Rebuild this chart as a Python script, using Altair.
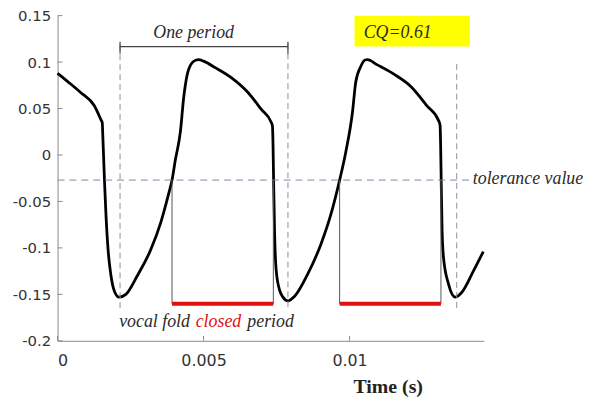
import altair as alt
import pandas as pd

# ---- waveform (time in s, amplitude) ----
t = [0, 0.00035, 0.00080, 0.00126, 0.00150, 0.00153, 0.00155, 0.00158, 0.00161, 0.00166,
     0.00173, 0.00183, 0.00194, 0.00211, 0.00234, 0.00273, 0.00319, 0.00353, 0.00381, 0.00392,
     0.00403, 0.00421, 0.00432, 0.00443, 0.00460, 0.00475, 0.00483, 0.00500, 0.00540, 0.00596,
     0.00653, 0.00698, 0.00732, 0.00736, 0.00738, 0.00740, 0.00743, 0.00749, 0.00761, 0.00772,
     0.00789, 0.00812, 0.00857, 0.00902, 0.00936, 0.00966, 0.00987, 0.01010, 0.01021, 0.01038,
     0.01053, 0.01061, 0.01095, 0.01152, 0.01209, 0.01265, 0.01305, 0.01310, 0.01312, 0.01314,
     0.01317, 0.01322, 0.01339, 0.01362, 0.01384, 0.01424, 0.01458]
v = [0.088, 0.079, 0.067, 0.053, 0.037, 0.035, 0.020, -0.005, -0.030, -0.066,
     -0.102, -0.130, -0.146, -0.153, -0.150, -0.130, -0.102, -0.073, -0.041, -0.027,
     -0.006, 0.026, 0.062, 0.085, 0.099, 0.1022, 0.1026, 0.101, 0.094, 0.083,
     0.067, 0.049, 0.035, 0.031, 0.010, -0.030, -0.080, -0.125, -0.146, -0.153,
     -0.157, -0.152, -0.128, -0.096, -0.064, -0.027, 0.003, 0.046, 0.078, 0.095,
     0.1022, 0.1026, 0.097, 0.087, 0.074, 0.053, 0.037, 0.032, 0.010, -0.030,
     -0.082, -0.111, -0.139, -0.153, -0.148, -0.125, -0.104]

x_ticks = [0, 0.005, 0.01]
y_ticks = [-0.2, -0.15, -0.1, -0.05, 0, 0.05, 0.1, 0.15]

period_x = [0.00214, 0.00789, 0.01367]
period_top = [0.119, 0.120, 0.098]
period_bottom = [-0.166, -0.166, -0.166]

tolerance = [-0.027]
tolerance_end = [0.01412]

closed_start = [0.00392, 0.00966]
closed_end = [0.00739, 0.01313]
closed_level = [-0.16, -0.16]

bracket_x = [0.00214, 0.00789]
bracket_y = [0.1167]
bracket_tick_lo = [0.109]
bracket_tick_hi = [0.122]

cq_box_x = [0.01017, 0.01412]
cq_box_y = [0.1167, 0.1498]

labels = ["One period", "CQ=0.61", "tolerance value", "vocal fold", "closed", "period"]
label_x = [0.00466, 0.01165, 0.01422, 0.00211, 0.00473, 0.00650]
label_y = [0.1263, 0.1263, -0.0314, -0.185, -0.185, -0.185]
label_align = ["center", "center", "left", "left", "left", "left"]
label_color = ["#2b2b2b", "#2b2b2b", "#2b2b2b", "#2b2b2b", "#dd1111", "#2b2b2b"]

xs = alt.Scale(domain=[0, 0.0146], nice=False, zero=False)
ys = alt.Scale(domain=[-0.2, 0.15], nice=False, zero=False)

xaxis = alt.Axis(
    values=x_ticks, labelExpr="'' + datum.value", grid=False, ticks=False,
    domainColor="#8a8a8a", labelFont="DejaVu Sans", labelFontSize=16, labelColor="#333333",
    labelPadding=12, title="Time (s)", titleFont="Liberation Serif", titleFontWeight="bold",
    titleFontSize=20, titleColor="#222222", titleX=333, titleY=52, titleAlign="center",
    titleBaseline="alphabetic")
yaxis = alt.Axis(
    values=y_ticks, labelExpr="'' + datum.value", grid=False, ticks=False,
    domainColor="#8a8a8a", labelFont="DejaVu Sans", labelFontSize=15, labelColor="#333333",
    labelPadding=7, title=None)


def X(f):
    return alt.X(f, type="quantitative", scale=xs, axis=xaxis)


def Y(f):
    return alt.Y(f, type="quantitative", scale=ys, axis=yaxis)


wave_df = pd.DataFrame({"t": t, "v": v})

curve = alt.Chart(wave_df).mark_line(color="black", strokeWidth=2.8, interpolate="monotone").encode(
    x=X("t"), y=Y("v"))

box = alt.Chart(pd.DataFrame({"x": [cq_box_x[0]], "x2": [cq_box_x[1]],
                              "y": [cq_box_y[0]], "y2": [cq_box_y[1]]})).mark_rect(color="#ffff00").encode(
    x=X("x"), x2="x2:Q", y=Y("y"), y2="y2:Q")

tol = alt.Chart(pd.DataFrame({"x": [0.0], "x2": tolerance_end, "y": tolerance})).mark_rule(
    color="#7d87a6", strokeWidth=1, strokeDash=[7, 5]).encode(
    x=X("x"), x2="x2:Q", y=Y("y"))

pdash = alt.Chart(pd.DataFrame({"x": period_x, "y": period_top, "y2": period_bottom})).mark_rule(
    color="#909090", strokeWidth=1, strokeDash=[6, 4]).encode(
    x=X("x"), y=Y("y"), y2="y2:Q")

cl_df = pd.DataFrame({"x": closed_start + closed_end,
                      "y": tolerance * 4, "y2": closed_level * 2})
cl = alt.Chart(cl_df).mark_rule(color="#555555", strokeWidth=1).encode(
    x=X("x"), y=Y("y"), y2="y2:Q")

red = alt.Chart(pd.DataFrame({"x": closed_start, "x2": closed_end, "y": closed_level})).mark_rule(
    color="#e01010", strokeWidth=4).encode(
    x=X("x"), x2="x2:Q", y=Y("y"))

br_h = alt.Chart(pd.DataFrame({"x": [bracket_x[0]], "x2": [bracket_x[1]], "y": bracket_y})).mark_rule(
    color="#444444", strokeWidth=1.2).encode(
    x=X("x"), x2="x2:Q", y=Y("y"))

br_t = alt.Chart(pd.DataFrame({"x": bracket_x, "y": bracket_tick_lo * 2, "y2": bracket_tick_hi * 2})).mark_rule(
    color="#444444", strokeWidth=1.2).encode(
    x=X("x"), y=Y("y"), y2="y2:Q")

xt = alt.Chart(pd.DataFrame({"x": x_ticks})).mark_rule(color="#8a8a8a", strokeWidth=1).encode(
    x=X("x"), y=alt.value(328), y2=alt.value(323))
yt = alt.Chart(pd.DataFrame({"y": y_ticks})).mark_rule(color="#8a8a8a", strokeWidth=1).encode(
    y=Y("y"), x=alt.value(0), x2=alt.value(5))

txt_df = pd.DataFrame({"label": labels, "x": label_x, "y": label_y})
texts = []
for i in range(len(labels)):
    texts.append(alt.Chart(txt_df.iloc[[i]]).mark_text(
        font="Liberation Serif", fontStyle="italic", fontSize=18,
        align=label_align[i], baseline="alphabetic", color=label_color[i]).encode(
        x=X("x"), y=Y("y"), text="label:N"))

chart = alt.layer(curve, box, tol, pdash, cl, red, br_h, br_t, xt, yt, *texts).properties(
    width=430, height=328,
    padding={"left": 50, "top": 6, "right": 100, "bottom": 58},
    autosize=alt.AutoSizeParams(type="none"),
).configure_view(stroke=None)

chart.save("out.html", embed_options={"renderer": "svg", "actions": False})
